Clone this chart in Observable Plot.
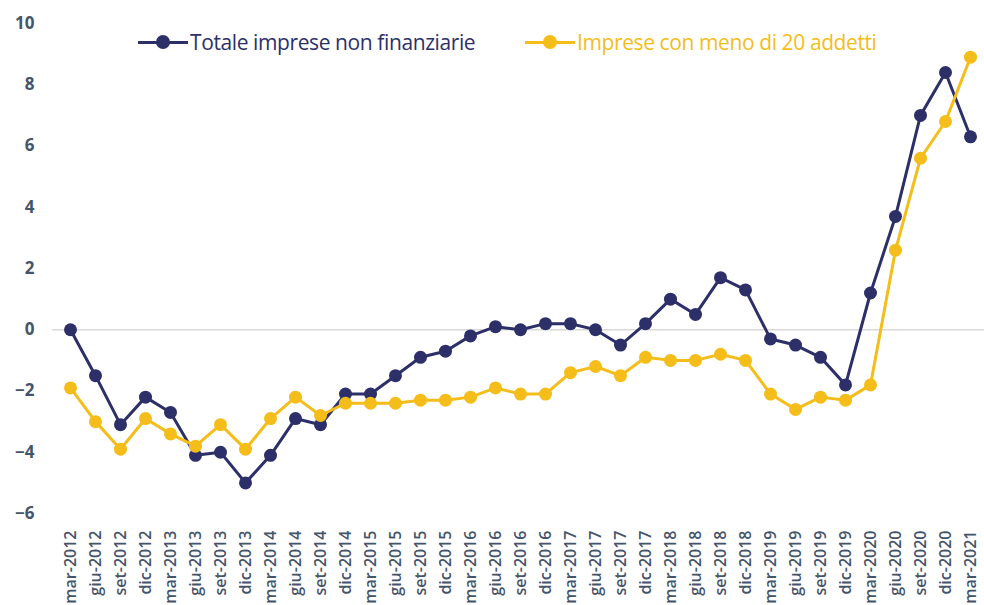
<!DOCTYPE html>
<html>
<head>
<meta charset="utf-8">
<script src="https://cdn.jsdelivr.net/npm/d3@7"></script>
<script src="https://cdn.jsdelivr.net/npm/@observablehq/plot@0.6"></script>
<style>
  body { margin: 0; background: #fff; }
  #wrap { position: relative; width: 984px; height: 605px; overflow: hidden; }
  #legend { position: absolute; top: 28px; left: 0; width: 984px; height: 32px; font-family: "Open Sans", sans-serif; font-size: 21px; letter-spacing: -0.4px; }
  .item { position: absolute; display: flex; align-items: center; white-space: nowrap; }
  .swatch { position: relative; width: 50px; height: 14px; margin-right: 2px; }
  .swatch .ln { position: absolute; left: 0; right: 0; top: 6px; height: 3px; }
  .swatch .dt { position: absolute; left: 18px; top: 0; width: 14px; height: 14px; border-radius: 50%; }
</style>
</head>
<body>
<div id="wrap">
  <div id="chart"></div>
  <div id="legend"></div>
</div>
<script>
const periods = ["mar-2012","giu-2012","set-2012","dic-2012","mar-2013","giu-2013","set-2013","dic-2013",
  "mar-2014","giu-2014","set-2014","dic-2014","mar-2015","giu-2015","set-2015","dic-2015",
  "mar-2016","giu-2016","set-2016","dic-2016","mar-2017","giu-2017","set-2017","dic-2017",
  "mar-2018","giu-2018","set-2018","dic-2018","mar-2019","giu-2019","set-2019","dic-2019",
  "mar-2020","giu-2020","set-2020","dic-2020","mar-2021"];
const totale = [0.0,-1.5,-3.1,-2.2,-2.7,-4.1,-4.0,-5.0,
  -4.1,-2.9,-3.1,-2.1,-2.1,-1.5,-0.9,-0.7,
  -0.2,0.1,0.0,0.2,0.2,0.0,-0.5,0.2,
  1.0,0.5,1.7,1.3,-0.3,-0.5,-0.9,-1.8,
  1.2,3.7,7.0,8.4,6.3];
const piccole = [-1.9,-3.0,-3.9,-2.9,-3.4,-3.8,-3.1,-3.9,
  -2.9,-2.2,-2.8,-2.4,-2.4,-2.4,-2.3,-2.3,
  -2.2,-1.9,-2.1,-2.1,-1.4,-1.2,-1.5,-0.9,
  -1.0,-1.0,-0.8,-1.0,-2.1,-2.6,-2.2,-2.3,
  -1.8,2.6,5.6,6.8,8.9];
const yTicks = [-6,-4,-2,0,2,4,6,8,10];
const seriesNames = ["Totale imprese non finanziarie", "Imprese con meno di 20 addetti"];
const seriesColors = ["#2d3068", "#f4bd1a"];

const data = [];
periods.forEach((p, i) => {
  data.push({period: p, value: totale[i], series: seriesNames[0]});
  data.push({period: p, value: piccole[i], series: seriesNames[1]});
});

const chart = Plot.plot({
  width: 984,
  height: 605,
  marginLeft: 65,
  marginRight: 9,
  marginTop: 23,
  marginBottom: 92,
  style: { fontFamily: "'Open Sans', sans-serif", background: "#fff", overflow: "visible" },
  x: { type: "point", domain: periods, padding: 0, label: null },
  y: { domain: [-6, 10], label: null },
  color: { domain: seriesNames, range: seriesColors },
  marks: [
    Plot.ruleY([0], { stroke: "#d9d9d9", strokeWidth: 1.3, insetLeft: -13, insetRight: -9 }),
    Plot.axisY({ ticks: yTicks, tickSize: 0, tickPadding: 31, fontSize: 17, fontWeight: 700, fill: "#44546a", label: null }),
    Plot.axisX({ tickSize: 0, tickRotate: -90, tickPadding: 17, fontSize: 16, fontWeight: 600, fill: "#44546a", label: null }),
    Plot.line(data, { x: "period", y: "value", z: "series", stroke: "series", strokeWidth: 3 }),
    Plot.dot(data, { x: "period", y: "value", fill: "series", r: 6.5 })
  ]
});
document.getElementById("chart").appendChild(chart);

const legend = document.getElementById("legend");
const legendLeft = [138, 525];
seriesNames.forEach((name, i) => {
  const item = document.createElement("div");
  item.className = "item";
  item.style.left = legendLeft[i] + "px";
  item.style.color = seriesColors[i];
  item.innerHTML = `<div class="swatch"><div class="ln" style="background:${seriesColors[i]}"></div><div class="dt" style="background:${seriesColors[i]}"></div></div><span>${name}</span>`;
  legend.appendChild(item);
});
</script>
</body>
</html>
